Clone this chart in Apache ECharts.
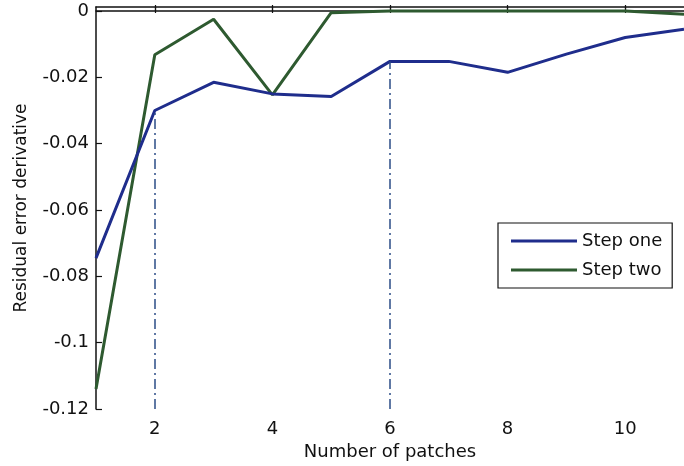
<!DOCTYPE html>
<html>
<head>
<meta charset="utf-8">
<script src="https://cdn.jsdelivr.net/npm/echarts@6/dist/echarts.min.js"></script>
<style>
  html, body { margin: 0; padding: 0; background: #fff; }
  #chart { width: 684px; height: 466px; }
</style>
</head>
<body>
<div id="chart"></div>
<script>
// number of patches
var patches = [1, 2, 3, 4, 5, 6, 7, 8, 9, 10, 11];
// residual error derivative
var stepOne = [-0.0745, -0.0300, -0.0215, -0.0250, -0.0258, -0.0152, -0.0152, -0.0185, -0.0130, -0.0080, -0.0055];
var stepTwo = [-0.1140, -0.0132, -0.0025, -0.0253, -0.0005, 0.0000, 0.0000, 0.0000, 0.0000, 0.0000, -0.0010];
var xTicks = [2, 4, 6, 8, 10];
var yTicks = [-0.12, -0.1, -0.08, -0.06, -0.04, -0.02, 0];
// patches where the vertical dash-dot markers are drawn
var markedPatches = [2, 6];

var yMin = -0.12, yMax = 0.0012;

function pairs(ys) {
	var out = [];
	for (var i = 0; i < patches.length; i++) {
		out.push([patches[i], ys[i]]);
	}
	return out;
}

var markData = [];
for (var k = 0; k < markedPatches.length; k++) {
	var idx = patches.indexOf(markedPatches[k]);
	markData.push([{ coord: [markedPatches[k], yMin] }, { coord: [markedPatches[k], stepOne[idx]] }]);
}

var font = 'DejaVu Sans';
var chart = echarts.init(document.getElementById('chart'));

var option = {
	animation: false,
	backgroundColor: '#fff',
	textStyle: { fontFamily: font },
	grid: { left: 96, top: 7, width: 596, bottom: 56 },
	legend: {
		left: 498, top: 223,
		orient: 'vertical',
		backgroundColor: '#fff',
		borderColor: '#111',
		borderWidth: 1.2,
		borderRadius: 0,
		padding: [9, 10, 9, 13],
		itemGap: 11,
		itemWidth: 66,
		itemHeight: 3,
		icon: 'rect',
		textStyle: { fontFamily: font, fontSize: 18, color: '#111' },
		data: ['Step one', 'Step two']
	},
	xAxis: [{
		type: 'value',
		min: 1, max: 11,
		name: 'Number of patches',
		nameLocation: 'middle',
		nameGap: 34,
		nameTextStyle: { fontFamily: font, fontSize: 18, color: '#111' },
		axisLine: { lineStyle: { color: '#111', width: 1.5 } },
		axisTick: { inside: true, length: 6, customValues: xTicks, lineStyle: { color: '#111', width: 1.2 } },
		axisLabel: { customValues: xTicks, fontFamily: font, fontSize: 18, color: '#111', margin: 11 },
		splitLine: { show: false }
	}, {
		type: 'value',
		position: 'top',
		min: 1, max: 11,
		axisLine: { lineStyle: { color: '#111', width: 1.5 } },
		axisTick: { inside: true, length: 6, customValues: xTicks, lineStyle: { color: '#111', width: 1.2 } },
		axisLabel: { show: false },
		splitLine: { show: false }
	}],
	yAxis: {
		type: 'value',
		min: yMin, max: yMax,
		name: 'Residual error derivative',
		nameLocation: 'middle',
		nameGap: 66,
		nameTextStyle: { fontFamily: font, fontSize: 17, color: '#111' },
		axisLine: { show: true, lineStyle: { color: '#111', width: 1.5 } },
		axisTick: { show: true, inside: true, length: 6, customValues: yTicks, lineStyle: { color: '#111', width: 1.2 } },
		axisLabel: {
			customValues: yTicks, fontFamily: font, fontSize: 18, color: '#111', margin: 7,
			formatter: function(v) { return v === 0 ? '0' : String(+v.toFixed(2)); }
		},
		splitLine: { show: false }
	},
	series: [{
		name: 'Step one',
		type: 'line',
		data: pairs(stepOne),
		symbol: 'none',
		itemStyle: { color: '#1f2d8c' },
		lineStyle: { color: '#1f2d8c', width: 3 },
		z: 3,
		markLine: {
			silent: true,
			symbol: 'none',
			label: { show: false },
			lineStyle: { color: '#2b4c86', width: 1.5, type: [10, 4, 2, 4] },
			data: markData
		}
	}, {
		name: 'Step two',
		type: 'line',
		data: pairs(stepTwo),
		symbol: 'none',
		itemStyle: { color: '#2e5a30' },
		lineStyle: { color: '#2e5a30', width: 3 },
		z: 2
	}]
};

chart.setOption(option);
</script>
</body>
</html>
